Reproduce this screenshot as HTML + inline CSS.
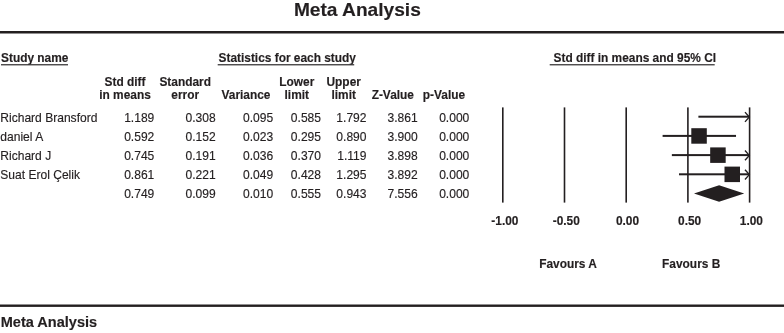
<!DOCTYPE html>
<html><head><meta charset="utf-8"><style>
html,body{margin:0;padding:0;background:#fff;width:784px;height:333px;overflow:hidden}
svg{display:block;will-change:transform;filter:blur(0.3px)}
text{font-family:"Liberation Sans",sans-serif;fill:#231f20;stroke:#231f20;stroke-width:0.15px}
.t{font-size:19.15px;font-weight:bold}
.h{font-size:11.9px;font-weight:bold}
.d{font-size:12.05px}
.b{font-size:14.55px;font-weight:bold}
</style></head><body>
<svg width="784" height="333" viewBox="0 0 784 333">
<rect width="784" height="333" fill="#fff"/>
<text x="293.9" y="16" class="t">Meta Analysis</text>
<rect x="0" y="31.0" width="784" height="2.5" fill="#231f20"/>
<text x="1" y="62.2" class="h">Study name</text>
<text x="218.5" y="62.2" class="h">Statistics for each study</text>
<text x="553.5" y="62.2" class="h">Std diff in means and 95% CI</text>
<rect x="1" y="64.1" width="67" height="1.3" fill="#3c3a3b"/>
<rect x="217.7" y="64.1" width="136.5" height="1.3" fill="#3c3a3b"/>
<rect x="549.7" y="64.1" width="165" height="1.3" fill="#3c3a3b"/>
<text x="125" y="85.5" class="h" text-anchor="middle">Std diff</text>
<text x="125" y="98.7" class="h" text-anchor="middle">in means</text>
<text x="185.2" y="85.5" class="h" text-anchor="middle">Standard</text>
<text x="185.2" y="98.7" class="h" text-anchor="middle">error</text>
<text x="246" y="98.7" class="h" text-anchor="middle">Variance</text>
<text x="296.8" y="85.5" class="h" text-anchor="middle">Lower</text>
<text x="296.8" y="98.7" class="h" text-anchor="middle">limit</text>
<text x="343.7" y="85.5" class="h" text-anchor="middle">Upper</text>
<text x="343.7" y="98.7" class="h" text-anchor="middle">limit</text>
<text x="392.8" y="98.7" class="h" text-anchor="middle">Z-Value</text>
<text x="444" y="98.7" class="h" text-anchor="middle">p-Value</text>
<text x="0.3" y="121.7" class="d">Richard Bransford</text>
<text x="154.3" y="121.7" class="d" text-anchor="end">1.189</text>
<text x="215.7" y="121.7" class="d" text-anchor="end">0.308</text>
<text x="273.1" y="121.7" class="d" text-anchor="end">0.095</text>
<text x="321.0" y="121.7" class="d" text-anchor="end">0.585</text>
<text x="366.5" y="121.7" class="d" text-anchor="end">1.792</text>
<text x="417.7" y="121.7" class="d" text-anchor="end">3.861</text>
<text x="469.3" y="121.7" class="d" text-anchor="end">0.000</text>
<text x="0.3" y="140.7" class="d">daniel A</text>
<text x="154.3" y="140.7" class="d" text-anchor="end">0.592</text>
<text x="215.7" y="140.7" class="d" text-anchor="end">0.152</text>
<text x="273.1" y="140.7" class="d" text-anchor="end">0.023</text>
<text x="321.0" y="140.7" class="d" text-anchor="end">0.295</text>
<text x="366.5" y="140.7" class="d" text-anchor="end">0.890</text>
<text x="417.7" y="140.7" class="d" text-anchor="end">3.900</text>
<text x="469.3" y="140.7" class="d" text-anchor="end">0.000</text>
<text x="0.3" y="159.6" class="d">Richard J</text>
<text x="154.3" y="159.6" class="d" text-anchor="end">0.745</text>
<text x="215.7" y="159.6" class="d" text-anchor="end">0.191</text>
<text x="273.1" y="159.6" class="d" text-anchor="end">0.036</text>
<text x="321.0" y="159.6" class="d" text-anchor="end">0.370</text>
<text x="366.5" y="159.6" class="d" text-anchor="end">1.119</text>
<text x="417.7" y="159.6" class="d" text-anchor="end">3.898</text>
<text x="469.3" y="159.6" class="d" text-anchor="end">0.000</text>
<text x="0.3" y="178.6" class="d">Suat Erol Çelik</text>
<text x="154.3" y="178.6" class="d" text-anchor="end">0.861</text>
<text x="215.7" y="178.6" class="d" text-anchor="end">0.221</text>
<text x="273.1" y="178.6" class="d" text-anchor="end">0.049</text>
<text x="321.0" y="178.6" class="d" text-anchor="end">0.428</text>
<text x="366.5" y="178.6" class="d" text-anchor="end">1.295</text>
<text x="417.7" y="178.6" class="d" text-anchor="end">3.892</text>
<text x="469.3" y="178.6" class="d" text-anchor="end">0.000</text>
<text x="154.3" y="197.5" class="d" text-anchor="end">0.749</text>
<text x="215.7" y="197.5" class="d" text-anchor="end">0.099</text>
<text x="273.1" y="197.5" class="d" text-anchor="end">0.010</text>
<text x="321.0" y="197.5" class="d" text-anchor="end">0.555</text>
<text x="366.5" y="197.5" class="d" text-anchor="end">0.943</text>
<text x="417.7" y="197.5" class="d" text-anchor="end">7.556</text>
<text x="469.3" y="197.5" class="d" text-anchor="end">0.000</text>
<rect x="502.00" y="107.4" width="1.6" height="95.2" fill="#231f20"/>
<rect x="563.70" y="107.4" width="1.6" height="95.2" fill="#231f20"/>
<rect x="625.40" y="107.4" width="1.6" height="95.2" fill="#231f20"/>
<rect x="687.10" y="107.4" width="1.6" height="95.2" fill="#231f20"/>
<rect x="748.80" y="107.4" width="1.6" height="95.2" fill="#231f20"/>
<rect x="698.39" y="115.70" width="51.21" height="2" fill="#231f20"/>
<path d="M745.00 112.10 L749.30 117.00 L745.00 121.90" stroke="#231f20" stroke-width="1.35" fill="none"/>
<rect x="662.60" y="134.90" width="73.42" height="2" fill="#231f20"/>
<rect x="691.30" y="128.20" width="15.5" height="15.5" fill="#231f20"/>
<rect x="671.86" y="154.10" width="77.74" height="2" fill="#231f20"/>
<path d="M745.00 150.50 L749.30 155.40 L745.00 160.30" stroke="#231f20" stroke-width="1.35" fill="none"/>
<rect x="710.18" y="147.40" width="15.5" height="15.5" fill="#231f20"/>
<rect x="679.02" y="173.30" width="70.58" height="2" fill="#231f20"/>
<path d="M745.00 169.70 L749.30 174.60 L745.00 179.50" stroke="#231f20" stroke-width="1.35" fill="none"/>
<rect x="724.50" y="166.60" width="15.5" height="15.5" fill="#231f20"/>
<path d="M694.0 193.50 L719.1 185.20 L744.2 193.50 L719.1 201.80 Z" fill="#231f20"/>
<text x="504.9" y="224.8" class="h" text-anchor="middle">-1.00</text>
<text x="566.3" y="224.8" class="h" text-anchor="middle">-0.50</text>
<text x="627.5" y="224.8" class="h" text-anchor="middle">0.00</text>
<text x="689.6" y="224.8" class="h" text-anchor="middle">0.50</text>
<text x="751.4" y="224.8" class="h" text-anchor="middle">1.00</text>
<text x="568" y="268" class="h" text-anchor="middle">Favours A</text>
<text x="691.2" y="268" class="h" text-anchor="middle">Favours B</text>
<rect x="0" y="304.5" width="784" height="2.4" fill="#231f20"/>
<text x="0.7" y="326.7" class="b">Meta Analysis</text>
</svg>
</body></html>
